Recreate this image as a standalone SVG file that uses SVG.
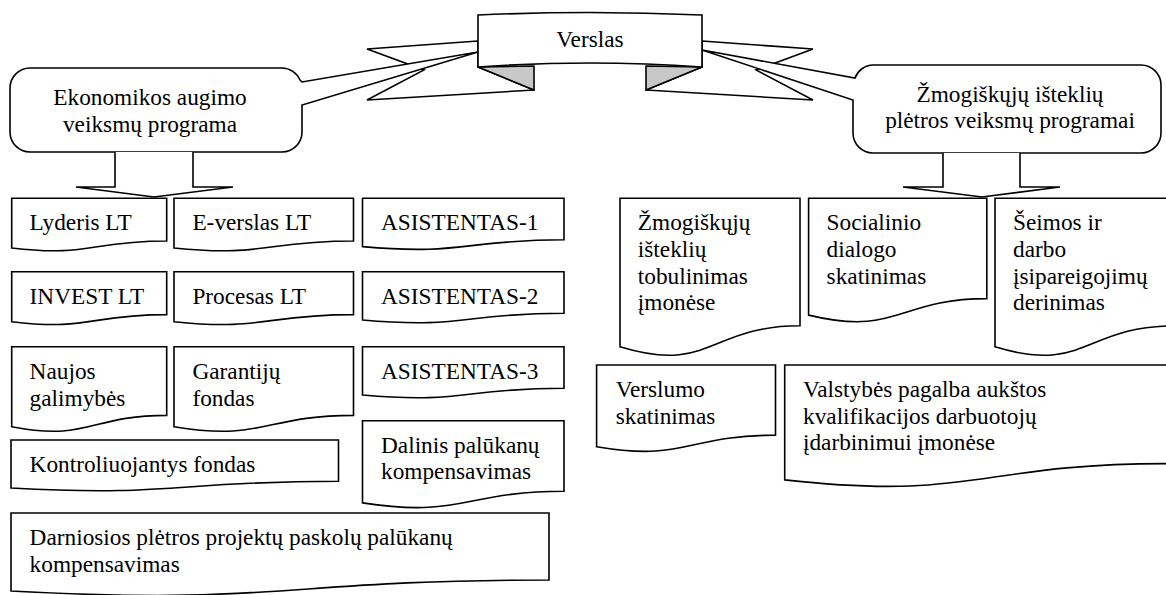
<svg xmlns="http://www.w3.org/2000/svg" width="1166" height="595" viewBox="0 0 1166 595">
<style>
.s{fill:#fff;stroke:#000;stroke-width:1.6;stroke-linejoin:miter}
.g{fill:#c8c8c8;stroke:#000;stroke-width:1.6;stroke-linejoin:miter}
text{font-family:"Liberation Serif","Times New Roman",serif;font-size:23.3px;fill:#000}
.c{text-anchor:middle}
</style>
<rect width="1166" height="595" fill="#fff"/>
<g id="verslas">
<path class="s" d="M478,41 L367,49 L424,70 L367,100 L534,90 L478,67 Z"/>
<path class="g" d="M478,67 L534,66 L534,90 Z"/>
<path class="s" d="M702,41 L813,49 L756,70 L813,100 L646,90 L702,67 Z"/>
<path class="g" d="M702,67 L646,66 L646,90 Z"/>
<path class="s" d="M478,15 Q590,10 702,15 L702,67 Q590,59 478,67 Z"/>
<text class="c" x="590" y="47">Verslas</text>
</g>
<g id="ekonomikos">
<path class="s" d="M30,68 H282 A20,20 0 0 1 300,80 L302,82 L478,52 L302,105 V132 A20,20 0 0 1 282,152 H30 A20,20 0 0 1 10,132 V88 A20,20 0 0 1 30,68 Z"/>
<text class="c" x="150" y="105">Ekonomikos augimo</text>
<text class="c" x="150" y="131.7">veiksmų programa</text>
</g>
<g id="zmogiskuju-programa">
<path class="s" d="M873,65 H1141 A20,20 0 0 1 1161,85 V133 A20,20 0 0 1 1141,153 H873 A20,20 0 0 1 853,133 V100 L702,50 L855,78 A20,20 0 0 1 873,65 Z"/>
<text class="c" x="1010" y="101.7">Žmogiškųjų išteklių</text>
<text class="c" x="1010" y="128.3">plėtros veiksmų programai</text>
</g>
<g id="connectors">
<path class="s" d="M115,152 V187 H76 L154,197 L233,187 H193 V152"/>
<path class="s" d="M943,153 V187 H903 L982,197 L1060,187 H1020 V153"/>
</g>
<g id="lyderis">
<path class="s" d="M11.7,198.3 H166.7 V241 C89.2,241 89.2,257.2 11.7,248 Z"/>
<text x="29.6" y="230">Lyderis LT</text>
</g>
<g id="e-verslas">
<path class="s" d="M174,198.3 H353.5 V241 C263.8,241 263.8,257.2 174,248 Z"/>
<text x="192.4" y="230">E-verslas LT</text>
</g>
<g id="asistentas-1">
<path class="s" d="M362.5,198.3 H564 V239.8 C463.3,239.8 463.3,255.6 362.5,246.6 Z"/>
<text x="381" y="230">ASISTENTAS-1</text>
</g>
<g id="invest">
<path class="s" d="M11.7,271.7 H166.7 V314.6 C89.2,314.6 89.2,331 11.7,321.7 Z"/>
<text x="29.6" y="304">INVEST LT</text>
</g>
<g id="procesas">
<path class="s" d="M174,271.7 H353.5 V314.6 C263.8,314.6 263.8,331 174,321.7 Z"/>
<text x="192.4" y="304">Procesas LT</text>
</g>
<g id="asistentas-2">
<path class="s" d="M362.5,271.7 H564 V313.2 C463.3,313.2 463.3,329 362.5,320 Z"/>
<text x="381" y="304">ASISTENTAS-2</text>
</g>
<g id="naujos">
<path class="s" d="M11.7,346.7 H166.7 V415.4 C89.2,415.4 89.2,441.6 11.7,426.7 Z"/>
<text x="29.6" y="379">Naujos</text>
<text x="29.6" y="405.7">galimybės</text>
</g>
<g id="garantiju">
<path class="s" d="M174,346.7 H353.5 V415.4 C263.8,415.4 263.8,441.6 174,426.7 Z"/>
<text x="192.4" y="379">Garantijų</text>
<text x="192.4" y="405.7">fondas</text>
</g>
<g id="asistentas-3">
<path class="s" d="M362.5,346.7 H564 V388.2 C463.3,388.2 463.3,404 362.5,395 Z"/>
<text x="381" y="379">ASISTENTAS-3</text>
</g>
<g id="kontroliuojantys">
<path class="s" d="M11,440 H338.5 V481.2 C174.8,481.2 174.8,496.9 11,488 Z"/>
<text x="29.6" y="472">Kontroliuojantys fondas</text>
</g>
<g id="dalinis">
<path class="s" d="M362.5,420.7 H564 V491.3 C463.3,491.3 463.3,518.2 362.5,502.9 Z"/>
<text x="381" y="452.7">Dalinis palūkanų</text>
<text x="381" y="479.4">kompensavimas</text>
</g>
<g id="darniosios">
<path class="s" d="M11,513 H549 V580 C280,580 280,605.5 11,591 Z"/>
<text x="29.6" y="545">Darniosios plėtros projektų paskolų palūkanų</text>
<text x="29.6" y="571.7">kompensavimas</text>
</g>
<g id="zmogiskuju-tobulinimas">
<path class="s" d="M620,198.3 H800 V325.8 C710,325.8 710,374.4 620,346.8 Z"/>
<text x="637.8" y="230.3">Žmogiškųjų</text>
<text x="637.8" y="257">išteklių</text>
<text x="637.8" y="283.7">tobulinimas</text>
<text x="637.8" y="310.4">įmonėse</text>
</g>
<g id="socialinio">
<path class="s" d="M808.6,198.3 H986.8 V298.6 C897.7,298.6 897.7,336.7 808.6,315.1 Z"/>
<text x="826.6" y="230.3">Socialinio</text>
<text x="826.6" y="257">dialogo</text>
<text x="826.6" y="283.7">skatinimas</text>
</g>
<g id="seimos">
<path class="s" d="M995,198.3 H1175 V325.8 C1085,325.8 1085,374.4 995,346.8 Z"/>
<text x="1013" y="230.3">Šeimos ir</text>
<text x="1013" y="257">darbo</text>
<text x="1013" y="283.7">įsipareigojimų</text>
<text x="1013" y="310.4">derinimas</text>
</g>
<g id="verslumo">
<path class="s" d="M596.6,365 H775.5 V435.2 C686,435.2 686,461.9 596.6,446.7 Z"/>
<text x="615.7" y="397">Verslumo</text>
<text x="615.7" y="423.7">skatinimas</text>
</g>
<g id="valstybes">
<path class="s" d="M784.7,365 H1167.7 V463.6 C976.2,463.6 976.2,501.2 784.7,479.9 Z"/>
<text x="803" y="397">Valstybės pagalba aukštos</text>
<text x="803" y="423.7">kvalifikacijos darbuotojų</text>
<text x="803" y="450.4">įdarbinimui įmonėse</text>
</g>
</svg>
